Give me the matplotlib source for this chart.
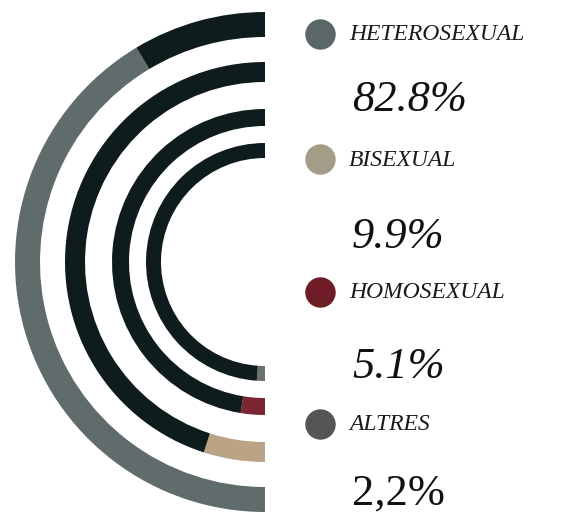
import matplotlib
matplotlib.use("Agg")
import matplotlib.pyplot as plt

categories = ["HETEROSEXUAL", "BISEXUAL", "HOMOSEXUAL", "ALTRES"]
values = [82.8, 9.9, 5.1, 2.2]
value_labels = ["82.8%", "9.9%", "5.1%", "2,2%"]

seg_colors = ["#5f6c6b", "#bba386", "#7b2632", "#6b7170"]
dot_colors = ["#5b6666", "#a39c86", "#6e1d26", "#555555"]
dark = "#0f1c1e"

fig = plt.figure(figsize=(5.63, 5.14), dpi=100)
ax = fig.add_axes([0, 0, 1, 1])

center = (265, 252)
radii = [250, 200, 153, 119]
widths = [25, 20, 17, 15]

for v, col, r, w in zip(values, seg_colors, radii, widths):
    ax.pie([v / 2, (100 - v) / 2, 50], colors=[col, dark, "none"],
           startangle=270, counterclock=False, radius=r, center=center,
           wedgeprops=dict(width=w, linewidth=0), frame=True)

ax.set_xlim(0, 563)
ax.set_ylim(0, 514)
ax.set_aspect("equal")
ax.axis("off")

label_y = [479, 354, 221, 89]
value_y = [414, 277, 147, 20]
font = "Liberation Serif"
for i, cat in enumerate(categories):
    ax.scatter([320], [label_y[i] + 1], s=480, color=dot_colors[i], linewidth=0)
    ax.text(349, label_y[i], cat, fontsize=17, fontstyle="italic", family=font,
            color="#1a1a1a", va="center", ha="left")
    ax.text(352, value_y[i], value_labels[i], fontsize=32,
            fontstyle="normal" if i == 3 else "italic", family=font,
            color="#111111", va="center", ha="left")

fig.savefig("out.png", dpi=100)
